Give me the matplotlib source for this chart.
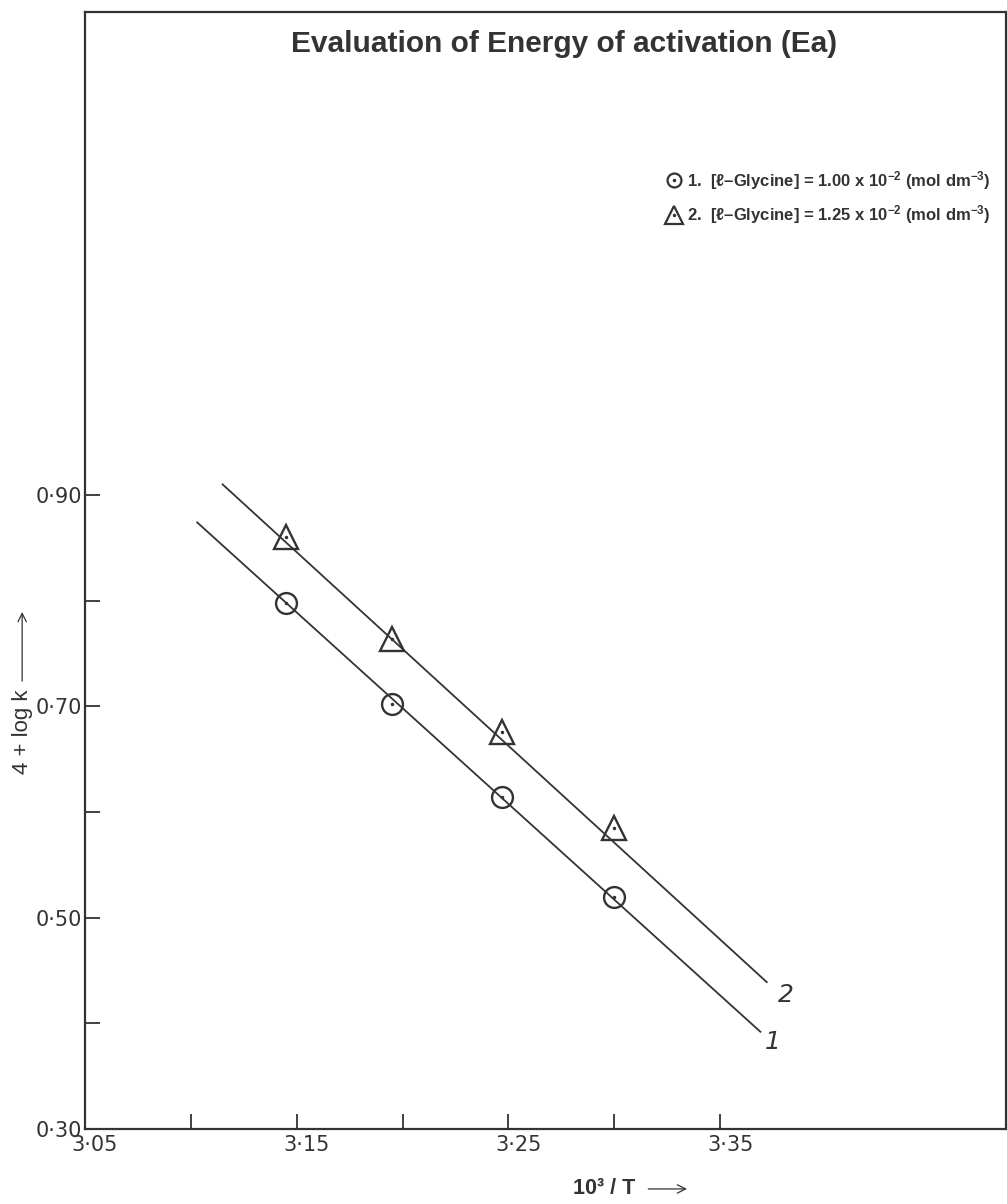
import matplotlib
matplotlib.use("Agg")
import matplotlib.pyplot as plt
import matplotlib.transforms as mtransforms
from matplotlib.lines import Line2D
from matplotlib.legend_handler import HandlerTuple

plt.rcParams['mathtext.fontset'] = 'custom'
plt.rcParams['mathtext.rm'] = 'Liberation Sans:bold'
plt.rcParams['mathtext.default'] = 'rm'

# values
inv_T = [3.145, 3.195, 3.247, 3.300]          # 10^3 / T
logk_1 = [0.798, 0.702, 0.614, 0.520]         # [l-Glycine] = 1.00e-2
logk_2 = [0.860, 0.764, 0.676, 0.585]         # [l-Glycine] = 1.25e-2

# hand drawn best-fit lines (end points)
fit1_x = [3.103, 3.369]
fit1_y = [0.874, 0.392]
fit2_x = [3.115, 3.372]
fit2_y = [0.910, 0.439]

xmaj = [3.05, 3.15, 3.25, 3.35]
xmaj_lab = ['3·05', '3·15', '3·25', '3·35']
xmin = [3.10, 3.20, 3.30]
ymaj = [0.30, 0.50, 0.70, 0.90]
ymaj_lab = ['0·30', '0·50', '0·70', '0·90']
ymin = [0.40, 0.60, 0.80]

ink = '#333333'

fig = plt.figure(figsize=(10.07, 12.04), dpi=100)
ax = fig.add_axes([0.0844, 0.0623, 0.9146, 0.9277])
ax.set_xlim(3.05, 3.485)
ax.set_ylim(0.30, 1.357)

for s in ax.spines.values():
    s.set_color(ink)
    s.set_linewidth(1.6)

ax.plot(fit1_x, fit1_y, color=ink, lw=1.3)
ax.plot(fit2_x, fit2_y, color=ink, lw=1.3)

ax.plot(inv_T, logk_1, 'o', ms=15, mfc='none', mec=ink, mew=1.7)
ax.plot(inv_T, logk_2, '^', ms=17, mfc='none', mec=ink, mew=1.7)
ax.plot(inv_T, logk_1, '.', ms=3, color=ink)
ax.plot(inv_T, logk_2, '.', ms=3, color=ink)

ax.text(fit1_x[1] + 0.006, fit1_y[1] - 0.010, '1', fontsize=18, color=ink,
        style='italic', ha='center', va='center')
ax.text(fit2_x[1] + 0.009, fit2_y[1] - 0.012, '2', fontsize=18, color=ink,
        style='italic', ha='center', va='center')

# ticks point inward like the hand drawn axes
ax.set_xticks(xmaj)
ax.set_xticklabels(xmaj_lab)
ax.set_xticks(xmin, minor=True)
ax.set_yticks(ymaj)
ax.set_yticklabels(ymaj_lab)
ax.set_yticks(ymin, minor=True)
ax.tick_params(which='both', direction='in', length=11, width=1.3, color=ink,
               labelsize=15, labelcolor=ink)
ax.tick_params(axis='x', pad=4)
ax.tick_params(axis='y', pad=2)
off = mtransforms.ScaledTranslation(10 / 100, 0, fig.dpi_scale_trans)
for lab in ax.get_xticklabels():
    lab.set_transform(lab.get_transform() + off)

ax.set_title('Evaluation of Energy of activation (Ea)', fontsize=21.5,
             fontweight='bold', family='Liberation Sans', color=ink,
             x=0.52, y=0.957)

h1 = (Line2D([], [], marker='o', ms=10, mfc='none', mec=ink, mew=1.6, ls='none'),
      Line2D([], [], marker='.', ms=3, color=ink, ls='none'))
h2 = (Line2D([], [], marker='^', ms=13, mfc='none', mec=ink, mew=1.6, ls='none'),
      Line2D([], [], marker='.', ms=3, color=ink, ls='none'))
lab1 = r'1.  [ℓ–Glycine] = 1.00 x 10$^{-2}$ (mol dm$^{-3}$)'
lab2 = r'2.  [ℓ–Glycine] = 1.25 x 10$^{-2}$ (mol dm$^{-3}$)'
leg = ax.legend([h1, h2], [lab1, lab2], handler_map={tuple: HandlerTuple(ndivide=1)},
                loc='upper right', bbox_to_anchor=(1.0, 0.873), frameon=False,
                handlelength=1.0, handletextpad=0.3, labelspacing=0.7,
                prop={'family': 'Liberation Sans', 'weight': 'bold', 'size': 12})
for t in leg.get_texts():
    t.set_color(ink)

fig.text(0.022, 0.392, '4 + log k', rotation=90, fontsize=16, color=ink,
         family='Liberation Sans', ha='center', va='center')
fig.add_artist(matplotlib.patches.FancyArrowPatch(
    (0.022, 0.432), (0.022, 0.494), transform=fig.transFigure,
    arrowstyle='->', mutation_scale=15, color=ink, lw=0.9))

fig.text(0.600, 0.0125, '10³ / T', fontsize=15.5, fontweight='bold', color=ink,
         family='Liberation Sans', ha='center', va='center')
fig.add_artist(matplotlib.patches.FancyArrowPatch(
    (0.641, 0.0125), (0.685, 0.0125), transform=fig.transFigure,
    arrowstyle='->', mutation_scale=15, color=ink, lw=0.9))

fig.savefig('out.png', dpi=100, facecolor='white')
